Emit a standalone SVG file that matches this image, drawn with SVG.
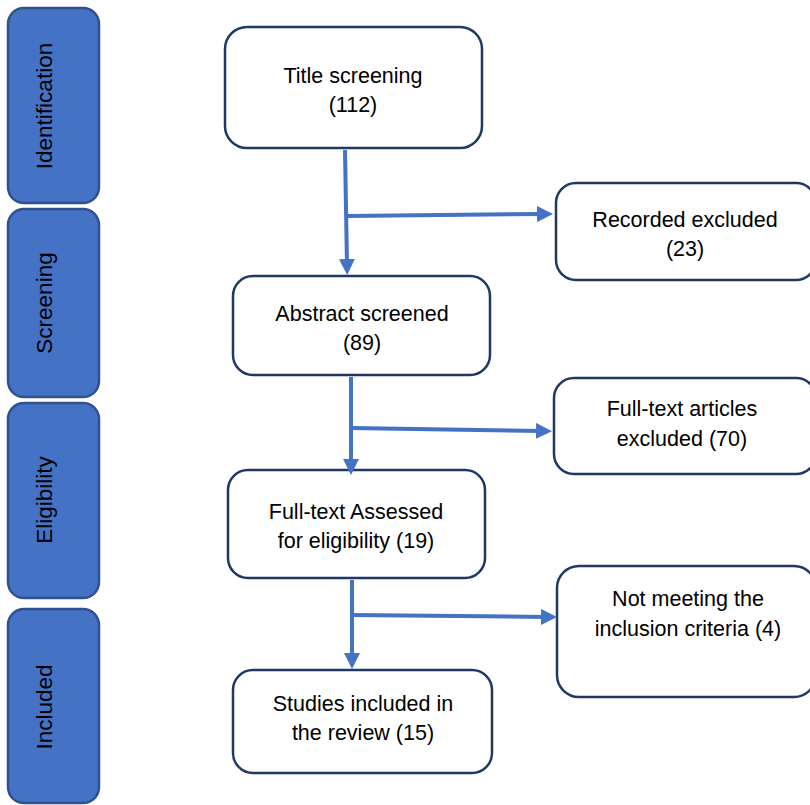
<svg xmlns="http://www.w3.org/2000/svg" width="810" height="805" viewBox="0 0 810 805">
<defs>
<style>
.stage{fill:#4472C4;stroke:#2F528F;stroke-width:2.5}
.box{fill:#FFFFFF;stroke:#1F3864;stroke-width:2.5}
.t{font-family:"Liberation Sans",Arial,sans-serif;font-size:21.5px;fill:#000;text-anchor:middle}
.s{font-size:22.5px}
.c{fill:none;stroke:#4472C4;stroke-width:4;marker-end:url(#ah)}
</style>
<marker id="ah" markerUnits="userSpaceOnUse" markerWidth="16" markerHeight="16" refX="6" refY="8" orient="auto">
<path d="M0,0 L16,8 L0,16 z" fill="#4472C4"/>
</marker>
</defs>
<rect width="810" height="805" fill="#FFFFFF"/>
<g id="stage-identification">
<rect class="stage" x="8" y="8" width="91" height="195" rx="16"/>
<text class="t s" transform="translate(52,106) rotate(-90)">Identification</text>
</g>
<g id="stage-screening">
<rect class="stage" x="8" y="209" width="91" height="188" rx="16"/>
<text class="t s" transform="translate(52,303) rotate(-90)">Screening</text>
</g>
<g id="stage-eligibility">
<rect class="stage" x="8" y="403" width="91" height="195" rx="16"/>
<text class="t s" transform="translate(52,500) rotate(-90)">Eligibility</text>
</g>
<g id="stage-included">
<rect class="stage" x="8" y="609" width="91" height="194" rx="16"/>
<text class="t s" transform="translate(52,707) rotate(-90)">Included</text>
</g>
<g id="title-screening">
<rect class="box" x="225" y="27" width="257" height="121" rx="22"/>
<text class="t" x="353" y="83">Title screening</text>
<text class="t" x="353" y="112">(112)</text>
</g>
<g id="recorded-excluded">
<rect class="box" x="556" y="183" width="260" height="97" rx="20"/>
<text class="t" x="685" y="227">Recorded excluded</text>
<text class="t" x="685" y="256">(23)</text>
</g>
<g id="abstract-screened">
<rect class="box" x="233" y="276" width="257" height="99" rx="20"/>
<text class="t" x="362" y="321">Abstract screened</text>
<text class="t" x="362" y="350">(89)</text>
</g>
<g id="fulltext-excluded">
<rect class="box" x="554" y="378" width="262" height="96" rx="20"/>
<text class="t" x="682" y="416">Full-text articles</text>
<text class="t" x="682" y="446">excluded (70)</text>
</g>
<g id="fulltext-assessed">
<rect class="box" x="228" y="470" width="257" height="108" rx="20"/>
<text class="t" x="356" y="519">Full-text Assessed</text>
<text class="t" x="356" y="548">for eligibility (19)</text>
</g>
<g id="not-meeting">
<rect class="box" x="557" y="566" width="259" height="131" rx="22"/>
<text class="t" x="688" y="606">Not meeting the</text>
<text class="t" x="688" y="636">inclusion criteria (4)</text>
</g>
<g id="studies-included">
<rect class="box" x="233" y="670" width="259" height="103" rx="20"/>
<text class="t" x="363" y="711">Studies included in</text>
<text class="t" x="363" y="740">the review (15)</text>
</g>
<g id="connectors">
<path class="c" d="M345,150 L347,265"/>
<path class="c" d="M347,216 L543,214"/>
<path class="c" d="M351,377 L351,465"/>
<path class="c" d="M351,428 L542,431"/>
<path class="c" d="M352,580 L352,659"/>
<path class="c" d="M352,615 L547,617"/>
</g>
</svg>
